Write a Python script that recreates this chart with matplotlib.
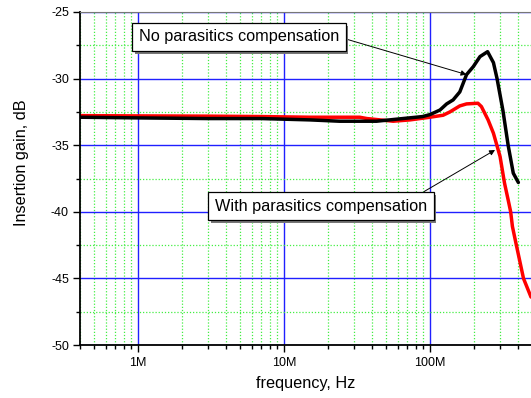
import matplotlib
matplotlib.use("Agg")
import matplotlib.pyplot as plt
import matplotlib.patheffects as pe
from matplotlib.ticker import FixedLocator, NullFormatter
import numpy as np

plt.rcParams['font.family'] = ['Liberation Sans', 'DejaVu Sans']

# no compensation (black)
f_black = [4e5, 1e6, 3e6, 7e6, 1.5e7, 2.4e7, 4.3e7, 6.5e7, 8.9e7, 1e8, 1.17e8,
           1.3e8, 1.44e8, 1.6e8, 1.78e8, 1.98e8, 2.2e8, 2.48e8, 2.72e8, 2.88e8,
           3.16e8, 3.43e8, 3.72e8, 4.03e8]
g_black = [-32.9, -32.95, -33.0, -33.0, -33.1, -33.2, -33.2, -33.0, -32.85, -32.7, -32.36,
           -31.9, -31.6, -31.0, -29.7, -29.1, -28.35, -27.98, -28.8, -30.0,
           -32.4, -35.0, -37.1, -37.8]

# with compensation (red)
f_red = [4e5, 1e6, 3e6, 7e6, 1.5e7, 3.3e7, 3.7e7, 5.6e7, 7.3e7, 1e8, 1.23e8, 1.37e8,
         1.6e8, 1.78e8, 2.13e8, 2.25e8, 2.5e8, 2.72e8, 3.02e8, 3.24e8, 3.43e8,
         3.57e8, 3.67e8, 3.87e8, 4.37e8, 4.92e8]
g_red = [-32.78, -32.8, -32.82, -32.85, -32.9, -32.9, -33.0, -33.2, -33.1, -32.9, -32.75, -32.5,
         -32.05, -31.9, -31.85, -32.1, -33.1, -34.1, -35.85, -37.85, -39.1,
         -40.0, -41.1, -42.3, -45.0, -46.4]

xticks = [1e6, 1e7, 1e8]
xticklabels = ['1M', '10M', '100M']
yticks = [-50, -45, -40, -35, -30, -25]

W, H = 531, 398
fig = plt.figure(figsize=(W / 100, H / 100), dpi=100)
ax = fig.add_axes([80 / W, 1 - 345 / H, (W - 80) / W, (345 - 12) / H])

ax.set_xscale('log')
ax.set_xlim(4e5, 4.92e8)
ax.set_ylim(-50, -25)

ax.set_xticks(xticks)
ax.set_xticklabels(xticklabels)
minor_x = [m * 10 ** d for d in range(5, 9) for m in range(2, 10)]
ax.xaxis.set_minor_locator(FixedLocator(minor_x))
ax.xaxis.set_minor_formatter(NullFormatter())
ax.set_yticks(yticks)
ax.set_yticklabels([str(v) for v in yticks])
ax.yaxis.set_minor_locator(FixedLocator([-47.5, -42.5, -37.5, -32.5, -27.5]))

ax.grid(which='major', color='#2020ff', lw=1.0, ls='-')
ax.grid(which='minor', color='#44ee44', lw=0.9, ls=(0, (1, 1.5)))
ax.set_axisbelow(True)

ax.tick_params(which='major', direction='out', length=5, width=1, labelsize=9, pad=3)
ax.tick_params(which='minor', direction='out', length=3, width=1)
ax.tick_params(axis='x', pad=4)

for s in ['left', 'bottom']:
    ax.spines[s].set_linewidth(1.3)
    ax.spines[s].set_color('black')
ax.spines['top'].set_color('#777777')
ax.spines['right'].set_visible(False)

ax.plot(f_red, g_red, color='#ff0000', lw=2.5, solid_capstyle='round')
ax.plot(f_black, g_black, color='black', lw=2.5, solid_capstyle='round')

ax.set_xlabel('frequency, Hz', fontsize=11.7)
ax.set_ylabel('Insertion gain, dB', fontsize=11.7)
ax.xaxis.set_label_coords((306 - 80) / 451, (345 - 376) / 333)
ax.yaxis.set_label_coords((29 - 80) / 451, (345 - 163) / 333)

box = dict(boxstyle='square,pad=0.4', fc='white', ec='black', lw=0.9)
arrow = dict(arrowstyle='-|>', color='black', lw=0.7, mutation_scale=8, shrinkA=0, shrinkB=0)

a1 = ax.annotate('No parasitics compensation', xy=(1.78e8, -29.7), xycoords='data',
                 xytext=(239, H - 37), textcoords='figure pixels',
                 ha='center', va='center', fontsize=11.7, bbox=box,
                 arrowprops=dict(arrow, relpos=(1.0, 0.5)))
a2 = ax.annotate('With parasitics compensation', xy=(2.79e8, -35.36), xycoords='data',
                 xytext=(321, H - 206), textcoords='figure pixels',
                 ha='center', va='center', fontsize=11.7, bbox=box,
                 arrowprops=dict(arrow, relpos=(0.93, 1.0)))
for a in (a1, a2):
    a.get_bbox_patch().set_path_effects(
        [pe.SimplePatchShadow(offset=(2, -2), shadow_rgbFace='#777777', alpha=1.0), pe.Normal()])

fig.savefig('out.png', dpi=100)
